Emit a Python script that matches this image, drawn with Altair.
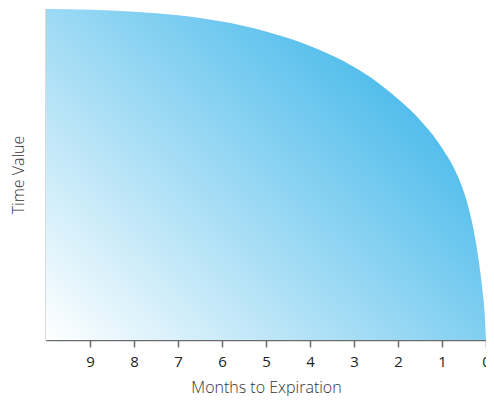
import altair as alt
import pandas as pd

months = [10, 9, 8, 7, 6, 5, 4, 3, 2.5, 2, 1.5, 1.2, 1, 0.75, 0.6, 0.45, 0.35, 0.25, 0.15, 0.08, 0.03, 0]
time_value = [1.0, 0.998, 0.992, 0.981, 0.962, 0.932, 0.888, 0.825, 0.782, 0.728, 0.665, 0.618, 0.58,
              0.525, 0.482, 0.425, 0.375, 0.31, 0.225, 0.15, 0.08, 0.0]
tick_values = [9, 8, 7, 6, 5, 4, 3, 2, 1, 0]

df = pd.DataFrame({"months": months, "value": time_value})

gradient = alt.Gradient(
    gradient="linear",
    x1=0, y1=1, x2=0.883, y2=0.306,
    stops=[
        alt.GradientStop(color="#ffffff", offset=0),
        alt.GradientStop(color="#4cbbeb", offset=1),
    ],
)

chart = (
    alt.Chart(df)
    .mark_area(interpolate="monotone", fill=gradient, strokeWidth=0)
    .encode(
        x=alt.X(
            "months:Q",
            scale=alt.Scale(domain=[0, 10], reverse=True, nice=False, zero=False),
            axis=alt.Axis(
                title="Months to Expiration",
                values=tick_values,
                grid=False,
                domainColor="#6b6b6b",
                domainWidth=1.5,
                tickColor="#6b6b6b",
                tickWidth=1.5,
                tickSize=7,
                labelPadding=7,
                labelFont="Open Sans",
                labelFontSize=15,
                labelColor="#222222",
                labelFlush=False,
                titleFont="Open Sans",
                titleFontSize=16,
                titleFontWeight=300,
                titleColor="#333333",
                titlePadding=10,
            ),
        ),
        y=alt.Y(
            "value:Q",
            scale=alt.Scale(domain=[0, 1], nice=False),
            axis=alt.Axis(
                title="Time Value",
                labels=False,
                ticks=False,
                grid=False,
                domainColor="#6b6b6b",
                domainWidth=1.5,
                titleFont="Open Sans",
                titleFontSize=16,
                titleFontWeight=300,
                titleColor="#333333",
                titlePadding=20,
            ),
        ),
    )
    .properties(
        width=440,
        height=331,
        autosize=alt.AutoSizeParams(type="none"),
        padding={"left": 38, "top": 1, "right": 0, "bottom": 56},
    )
    .configure_view(stroke=None)
)

chart.save("out.html", embed_options={"renderer": "svg", "actions": False})
